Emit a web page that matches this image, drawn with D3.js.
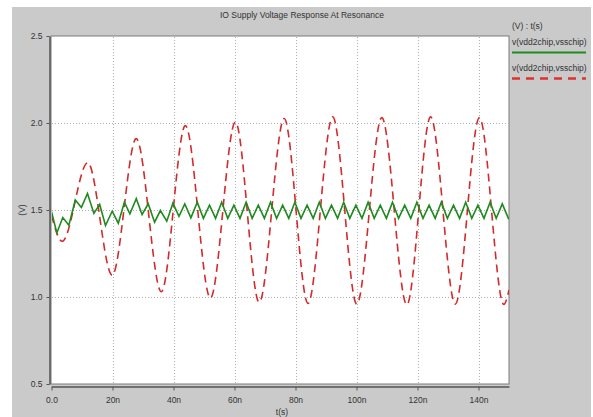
<!DOCTYPE html>
<html>
<head>
<meta charset="utf-8">
<script src="https://cdnjs.cloudflare.com/ajax/libs/d3/7.8.5/d3.min.js"></script>
<style>
body { margin: 0; background: #fff; }
text { font-family: "Liberation Sans", Arial, sans-serif; fill: #333; }
</style>
</head>
<body>
<svg id="chart" width="593" height="417"></svg>
<script>
var title = "IO Supply Voltage Response At Resonance";
var legendHead = "(V) : t(s)";
var seriesNames = ["v(vdd2chip,vsschip)", "v(vdd2chip,vsschip)"];
var xTicks = [0, 20, 40, 60, 80, 100, 120, 140];
var yTicks = [0.5, 1.0, 1.5, 2.0, 2.5];
var yGrid = [1.0, 1.5, 2.0];

// green trace: corners of the zigzag (time in ns, volts)
var greenT = [0, 1.75, 3.7, 5.7, 7.8, 9.8, 11.8, 13.9, 15.8, 17.7, 19.9, 21.9, 23.9, 25.7,
  27.8, 29.7, 31.7, 33.8, 35.7, 37.8, 39.8, 41.8, 43.7, 45.7,
  47.8, 49.8, 51.8, 53.8, 55.8, 57.8, 59.8, 61.8, 63.8, 65.8, 67.8, 69.8, 71.8, 73.8,
  75.8, 77.8, 79.8, 81.8, 83.8, 85.8, 87.8, 89.8, 91.8, 93.8, 95.8, 97.8, 99.8, 101.8,
  103.8, 105.8, 107.8, 109.8, 111.8, 113.8, 115.8, 117.8, 119.8, 121.8, 123.8, 125.8,
  127.8, 129.8, 131.8, 133.8, 135.8, 137.8, 139.8, 141.8, 143.8, 145.8, 147.8, 149.8, 150];
var greenV = [1.49, 1.368, 1.457, 1.413, 1.557, 1.515, 1.595, 1.48, 1.532, 1.411, 1.493, 1.424, 1.545, 1.478,
  1.565, 1.474, 1.536, 1.43, 1.497, 1.436, 1.539, 1.463, 1.535, 1.455,
  1.545, 1.452, 1.528, 1.452, 1.545, 1.452, 1.528, 1.452, 1.545, 1.452, 1.528, 1.452, 1.545, 1.452,
  1.528, 1.452, 1.545, 1.452, 1.528, 1.452, 1.545, 1.452, 1.528, 1.452, 1.545, 1.452, 1.528, 1.452,
  1.545, 1.452, 1.528, 1.452, 1.545, 1.452, 1.528, 1.452, 1.545, 1.452, 1.528, 1.452,
  1.545, 1.452, 1.528, 1.452, 1.545, 1.452, 1.528, 1.452, 1.545, 1.452, 1.535, 1.452, 1.455];

// red trace: start, then peaks and troughs
var redT = [0, 3.5, 11.9, 19.9, 27.8, 36.0, 43.9, 52.1, 60.3, 68.1, 76.3, 84.1, 92.2, 100.1,
  108.3, 116.5, 124.3, 132.4, 140.3, 148.3, 150];
var redV = [1.47, 1.32, 1.772, 1.125, 1.91, 1.03, 1.985, 0.994, 2.006, 0.969, 2.026, 0.963, 2.035, 0.959,
  2.031, 0.955, 2.035, 0.959, 2.031, 0.957, 1.04];

var green = greenT.map(function(t, i) { return {t: t, v: greenV[i]}; });
var red = redT.map(function(t, i) { return {t: t, v: redV[i]}; });

var svg = d3.select("#chart");
var plot = {left: 51, right: 509, top: 36, bottom: 384};

// gray panel
svg.append("rect")
  .attr("x", 12).attr("y", 7)
  .attr("width", 579).attr("height", 410)
  .attr("fill", "#cacaca");

var x = d3.scaleLinear().domain([0, 150]).range([plot.left + 0.5, plot.right]);
var y = d3.scaleLinear().domain([0.5, 2.5]).range([plot.bottom, plot.top]);

svg.append("rect")
  .attr("x", plot.left).attr("y", plot.top)
  .attr("width", plot.right - plot.left).attr("height", plot.bottom - plot.top)
  .attr("fill", "#fff")
  .attr("stroke", "#7a7a7a")
  .attr("stroke-width", 1);

// grid
var grid = svg.append("g").attr("stroke", "#b0b0b0").attr("stroke-dasharray", "1,2");
grid.selectAll(".vg").data(xTicks.slice(1)).enter().append("line")
  .attr("x1", function(d) { return Math.round(x(d)) + 0.5; })
  .attr("x2", function(d) { return Math.round(x(d)) + 0.5; })
  .attr("y1", plot.top + 1).attr("y2", plot.bottom);
grid.selectAll(".hg").data(yGrid).enter().append("line")
  .attr("y1", function(d) { return Math.round(y(d)) + 0.5; })
  .attr("y2", function(d) { return Math.round(y(d)) + 0.5; })
  .attr("x1", plot.left + 1).attr("x2", plot.right);

// axes
var xAxis = svg.append("g")
  .attr("transform", "translate(0," + (plot.bottom + 2.5) + ")")
  .call(d3.axisBottom(x).tickValues(xTicks).tickSizeOuter(0).tickSizeInner(4).tickPadding(6)
    .tickFormat(function(d) { return d === 0 ? "0.0" : d + "n"; }));
var yAxis = svg.append("g")
  .attr("transform", "translate(" + (plot.left - 1.5) + ",0)")
  .call(d3.axisLeft(y).tickValues(yTicks).tickSizeOuter(0).tickSizeInner(3).tickPadding(4)
    .tickFormat(d3.format(".1f")));
[xAxis, yAxis].forEach(function(a) {
  a.select(".domain").attr("stroke", "#555").attr("stroke-width", 1.5);
  a.selectAll(".tick line").attr("stroke", "#555");
  a.selectAll("text").style("font-size", "8.5px").attr("fill", "#333");
});

svg.append("text")
  .attr("x", 282).attr("y", 415)
  .attr("text-anchor", "middle")
  .style("font-size", "8.5px")
  .text("t(s)");
svg.append("text")
  .attr("transform", "translate(25,210) rotate(-90)")
  .attr("text-anchor", "middle")
  .style("font-size", "8.5px")
  .text("(V)");

svg.append("text")
  .attr("x", 302).attr("y", 18)
  .attr("text-anchor", "middle")
  .style("font-size", "8.5px")
  .text(title);

// traces
svg.append("clipPath").attr("id", "clip").append("rect")
  .attr("x", plot.left + 1).attr("y", plot.top + 1)
  .attr("width", plot.right - plot.left - 1).attr("height", plot.bottom - plot.top - 1);

var lineFn = d3.line()
  .x(function(d) { return x(d.t); })
  .y(function(d) { return y(d.v); });

var g = svg.append("g").attr("clip-path", "url(#clip)");
g.append("path")
  .datum(red)
  .attr("d", lineFn.curve(d3.curveMonotoneX))
  .attr("fill", "none")
  .attr("stroke", "#d42a2a")
  .attr("stroke-width", 1.6)
  .attr("stroke-dasharray", "8,5");
g.append("path")
  .datum(green)
  .attr("d", lineFn.curve(d3.curveLinear))
  .attr("fill", "none")
  .attr("stroke", "#1f8a1f")
  .attr("stroke-width", 1.6);

// legend
var leg = svg.append("g").attr("transform", "translate(512,0)");
leg.append("text").attr("x", 0).attr("y", 29).style("font-size", "8.5px").text(legendHead);
leg.append("text").attr("x", 0).attr("y", 45).style("font-size", "8.5px").text(seriesNames[0]);
leg.append("line").attr("x1", 0).attr("x2", 74).attr("y1", 52.5).attr("y2", 52.5)
  .attr("stroke", "#1f8a1f").attr("stroke-width", 2);
leg.append("text").attr("x", 0).attr("y", 71).style("font-size", "8.5px").text(seriesNames[1]);
leg.append("line").attr("x1", 0).attr("x2", 74).attr("y1", 78.5).attr("y2", 78.5)
  .attr("stroke", "#e03030").attr("stroke-width", 2.5).attr("stroke-dasharray", "8,6");
</script>
</body>
</html>
